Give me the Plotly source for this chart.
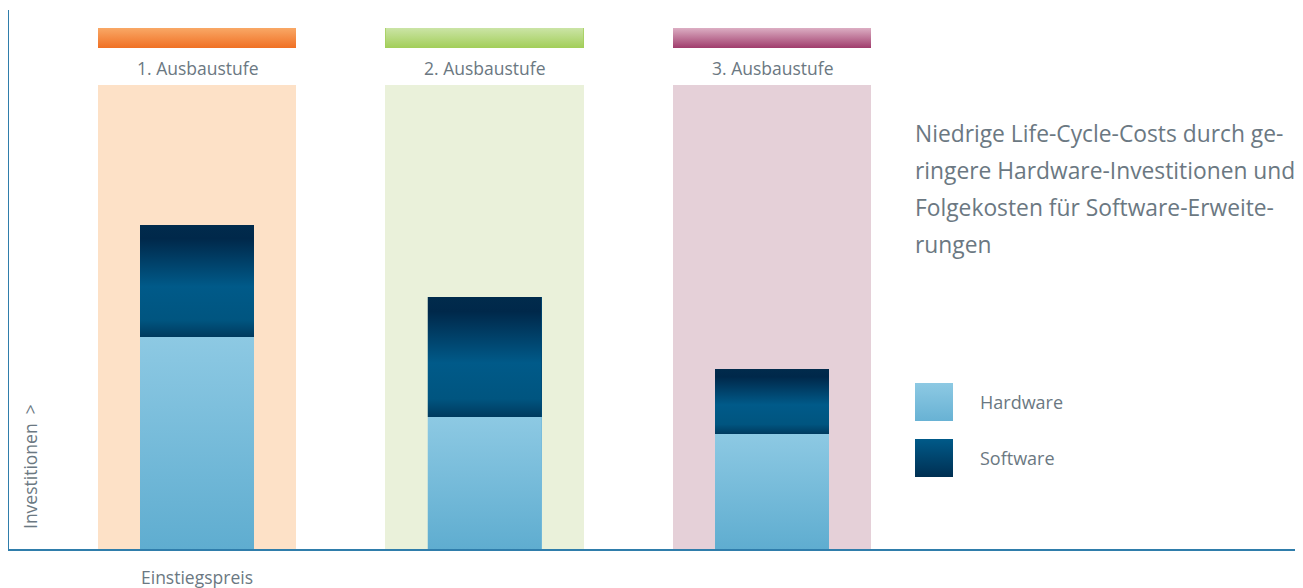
import base64
import plotly.graph_objects as go

# ---------------- data ----------------
stages = ["1. Ausbaustufe", "2. Ausbaustufe", "3. Ausbaustufe"]
stage_pos = [0, 1, 2]
hardware = [212, 132, 115]
software = [112, 120, 65]
column_height = [464, 464, 464]
header_base = [501, 501, 501]
header_height = [20, 20, 20]
x_tick_label = ["Einstiegspreis"]
legend_labels = ["Hardware", "Software"]
note_lines = [
    "Niedrige Life-Cycle-Costs durch ge-",
    "ringere Hardware-Investitionen und",
    "Folgekosten für Software-Erweite-",
    "rungen",
]
y_title = "Investitionen\u00a0\u00a0>"

# ---------------- style ----------------
FONT = "Open Sans"
TXT = "#6b7882"
AXIS = "#2f7dab"
bg_cols = ["#fde1c7", "#eaf1da", "#e5d0d8"]
header_grad = [
    [(0, "#f9a866"), (1, "#f07024")],
    [(0, "#cbe4a6"), (1, "#a2ce58")],
    [(0, "#dcaec3"), (1, "#a03c6c")],
]
hw_grad = [(0, "#8dc9e3"), (1, "#5fadd0")]
sw_grad = [(0, "#012b4c"), (0.12, "#00284a"), (0.55, "#005a89"),
           (0.85, "#005580"), (1, "#003a5e")]
leg_hw_grad = [(0, "#8dc9e3"), (1, "#68b2d4")]
leg_sw_grad = [(0, "#005a89"), (1, "#002f52")]

BG_W = 0.689
BAR_W = 0.3965

# page body has an 8px margin -> shift figure accordingly
OFF = 8
PLOT_L = 9
PLOT_W = 1303 - 9


def grad_uri(stops):
    st = "".join(f"<stop offset='{o}' stop-color='{c}'/>" for o, c in stops)
    svg = ("<svg xmlns='http://www.w3.org/2000/svg' width='10' height='100' "
           "preserveAspectRatio='none'><defs><linearGradient id='g' x1='0' y1='0' "
           f"x2='0' y2='1'>{st}</linearGradient></defs>"
           "<rect width='10' height='100' fill='url(#g)'/></svg>")
    return "data:image/svg+xml;base64," + base64.b64encode(svg.encode()).decode()


fig = go.Figure()

fig.add_trace(go.Bar(x=stage_pos, y=column_height, width=BG_W,
                     marker=dict(color=bg_cols, line=dict(width=0)),
                     showlegend=False, hoverinfo="skip"))
fig.add_trace(go.Bar(x=stage_pos, y=header_height, base=header_base, width=BG_W,
                     marker=dict(color=[g[1][1] for g in header_grad], line=dict(width=0)),
                     showlegend=False, hoverinfo="skip"))
fig.add_trace(go.Bar(x=stage_pos, y=hardware, base=[0] * 3, width=BAR_W, name="Hardware",
                     marker=dict(color="#75bbda", line=dict(width=0)), showlegend=False))
fig.add_trace(go.Bar(x=stage_pos, y=software, base=hardware, width=BAR_W, name="Software",
                     marker=dict(color="#004a75", line=dict(width=0)), showlegend=False))

images = []
for i, p in enumerate(stage_pos):
    images.append(dict(source=grad_uri(header_grad[i]), xref="x", yref="y",
                       x=p - BG_W / 2, y=header_base[i] + header_height[i],
                       sizex=BG_W, sizey=header_height[i], xanchor="left", yanchor="top",
                       sizing="stretch", layer="above"))
    images.append(dict(source=grad_uri(hw_grad), xref="x", yref="y",
                       x=p - BAR_W / 2, y=hardware[i], sizex=BAR_W, sizey=hardware[i],
                       xanchor="left", yanchor="top", sizing="stretch", layer="above"))
    images.append(dict(source=grad_uri(sw_grad), xref="x", yref="y",
                       x=p - BAR_W / 2, y=hardware[i] + software[i], sizex=BAR_W,
                       sizey=software[i], xanchor="left", yanchor="top",
                       sizing="stretch", layer="above"))

annotations = []
for i, p in enumerate(stage_pos):
    annotations.append(dict(x=p, y=481, xref="x", yref="y", text=stages[i],
                            showarrow=False, font=dict(family=FONT, size=17.5, color=TXT)))
annotations.append(dict(x=stage_pos[0], y=0, xref="x", yref="paper", yanchor="middle",
                        yshift=-28, text=x_tick_label[0], showarrow=False,
                        font=dict(family=FONT, size=17.5, color=TXT)))
annotations.append(dict(x=21 / PLOT_W, y=82, xref="paper", yref="y", text=y_title,
                        textangle=-90, showarrow=False, xanchor="center", yanchor="middle",
                        font=dict(family=FONT, size=17.5, color=TXT)))

note_y = [416, 379, 342, 305]
for k, line in enumerate(note_lines):
    annotations.append(dict(x=(913 - PLOT_L) / PLOT_W, y=note_y[k], xref="paper", yref="y",
                            xanchor="left", text=line, showarrow=False,
                            font=dict(family=FONT, size=22.8, color=TXT)))

leg_y = [166, 110]
leg_grads = [leg_hw_grad, leg_sw_grad]
for k, lab in enumerate(legend_labels):
    images.append(dict(source=grad_uri(leg_grads[k]), xref="paper", yref="y",
                       x=(915 - PLOT_L) / PLOT_W, y=leg_y[k], sizex=38 / PLOT_W, sizey=38,
                       xanchor="left", yanchor="top", sizing="stretch", layer="above"))
    annotations.append(dict(x=(978 - PLOT_L) / PLOT_W, y=leg_y[k] - 19, xref="paper", yref="y",
                            xanchor="left", text=lab, showarrow=False,
                            font=dict(family=FONT, size=18, color=TXT)))

fig.update_layout(
    width=1303 - OFF, height=588 - OFF,
    margin=dict(l=PLOT_L - OFF, r=0, t=10 - OFF, b=39),
    paper_bgcolor="white", plot_bgcolor="white",
    barmode="overlay", bargap=0,
    images=images, annotations=annotations,
    xaxis=dict(range=[-188 / 287.5, (PLOT_W - 188) / 287.5], showgrid=False, zeroline=False,
               showticklabels=False, ticks="", showline=True, linecolor=AXIS, linewidth=2,
               fixedrange=True),
    yaxis=dict(range=[0, 539], showgrid=False, zeroline=False, showticklabels=False,
               ticks="", showline=True, linecolor=AXIS, linewidth=2, fixedrange=True),
    showlegend=False,
)

fig.write_html("out.html")
